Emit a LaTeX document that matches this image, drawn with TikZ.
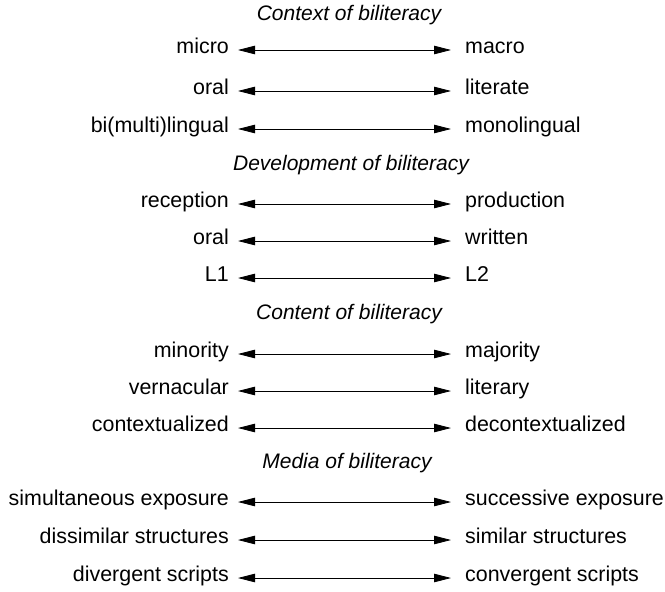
\documentclass[tikz,border=0pt]{standalone}
\usepackage{fontspec}
\setmainfont{Liberation Sans}
\usetikzlibrary{arrows.meta}
\tikzset{
  lab/.style={inner sep=0pt, font=\fontsize{21.4}{25}\selectfont, text height=11.5pt, text depth=4pt},
  lft/.style={lab, anchor=east},
  rgt/.style={lab, anchor=west},
  hdr/.style={lab, font=\fontsize{21}{25}\selectfont\itshape},
  dbl/.style={line width=0.8pt, arrows={Triangle[length=17pt,width=8.5pt]-Triangle[length=17pt,width=8.5pt]}, shorten <=9pt, shorten >=14pt}
}
\begin{document}
\begin{tikzpicture}[x=1pt,y=-1pt]
\useasboundingbox (0,0) rectangle (665,592);
\node[hdr] (h1) at (349,17) {Context of biliteracy};
\node[lft] (l1) at (229,50) {micro};
\node[rgt] (r1) at (465,50) {macro};
\node[lft] (l2) at (229,91) {oral};
\node[rgt] (r2) at (465,91) {literate};
\node[lft] (l3) at (229,129) {bi(multi)lingual};
\node[rgt] (r3) at (465,129) {monolingual};
\node[hdr] (h2) at (351,167) {Development of biliteracy};
\node[lft] (l4) at (229,204) {reception};
\node[rgt] (r4) at (465,204) {production};
\node[lft] (l5) at (229,241) {oral};
\node[rgt] (r5) at (465,241) {written};
\node[lft] (l6) at (229,278) {L1};
\node[rgt] (r6) at (465,278) {L2};
\node[hdr] (h3) at (349,316) {Content of biliteracy};
\node[lft] (l7) at (229,354) {minority};
\node[rgt] (r7) at (465,354) {majority};
\node[lft] (l8) at (229,391) {vernacular};
\node[rgt] (r8) at (465,391) {literary};
\node[lft] (l9) at (229,428) {contextualized};
\node[rgt] (r9) at (465,428) {decontextualized};
\node[hdr] (h4) at (347,465) {Media of biliteracy};
\node[lft] (l10) at (229,502) {simultaneous exposure};
\node[rgt] (r10) at (465,502) {successive exposure};
\node[lft] (l11) at (229,540) {dissimilar structures};
\node[rgt] (r11) at (465,540) {similar structures};
\node[lft] (l12) at (229,578) {divergent scripts};
\node[rgt] (r12) at (465,578) {convergent scripts};
\foreach \i in {1,...,12} {
  \draw[dbl] (l\i.east) -- (r\i.west);
}
\end{tikzpicture}
\end{document}
